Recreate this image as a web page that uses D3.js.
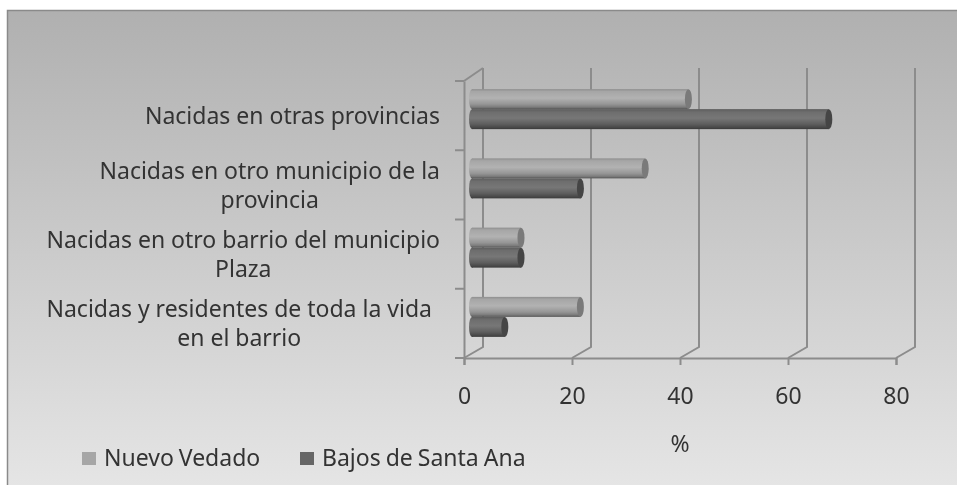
<!DOCTYPE html>
<html>
<head>
<meta charset="utf-8">
<script src="https://cdn.jsdelivr.net/npm/d3@7"></script>
<style>
  html, body { margin: 0; padding: 0; background: #fff; }
  svg { filter: blur(0.45px); }
  text { font-family: "Noto Sans", sans-serif; fill: #333; font-size: 23px; }
</style>
</head>
<body>
<div id="chart"></div>
<script>
// Data
const categories = [
    ["Nacidas en otras provincias"],
    ["Nacidas en otro municipio de la", "provincia"],
    ["Nacidas en otro barrio del municipio", "Plaza"],
    ["Nacidas y residentes de toda la vida", "en el barrio"]
];
const seriesNames = ["Nuevo Vedado", "Bajos de Santa Ana"];
const nuevoVedado = [41, 33, 10, 21];
const bajosSantaAna = [67, 21, 10, 7];
const xTicks = [0, 20, 40, 60, 80];
const labelRight = [440, 440, 440, 432];

const viewW = 957;
const viewH = 485;

// Plot box of the front face, the back wall sits up and to the right
const plot = { left: 464, right: 896, top: 81, bottom: 358 };
const depth = { x: 19, y: -11 };
const lineColor = "#8c8c8c";

const svg = d3.select("#chart")
    .append("svg")
    .attr("width", viewW)
    .attr("height", viewH)
    .style("display", "block");

const defs = svg.append("defs");

// Background gradient
const bg = defs.append("linearGradient")
    .attr("id", "bg")
    .attr("x1", 0).attr("y1", 0).attr("x2", 0).attr("y2", 1);
bg.append("stop").attr("offset", "0%").attr("stop-color", "#b0b0b0");
bg.append("stop").attr("offset", "100%").attr("stop-color", "#e6e6e6");

// Cylinder shading
const addCylinder = (id, stops) => {
    const g = defs.append("linearGradient")
        .attr("id", id)
        .attr("x1", 0).attr("y1", 0).attr("x2", 0).attr("y2", 1);
    stops.forEach(([o, c]) => g.append("stop").attr("offset", o).attr("stop-color", c));
};
addCylinder("cylLight", [["0%", "#8e8e8e"], ["12%", "#a6a6a6"], ["45%", "#b2b2b2"], ["75%", "#969696"], ["90%", "#7c7c7c"], ["100%", "#555"]]);
addCylinder("cylDark", [["0%", "#5c5c5c"], ["15%", "#6e6e6e"], ["45%", "#777"], ["75%", "#5e5e5e"], ["92%", "#484848"], ["100%", "#3a3a3a"]]);

svg.append("rect")
    .attr("x", 7.5).attr("y", 10.5)
    .attr("width", viewW).attr("height", viewH)
    .attr("fill", "url(#bg)")
    .attr("stroke", "#8a8a8a")
    .attr("stroke-width", 1.5);

// Scales
const xScale = d3.scaleLinear().domain([0, 80]).range([plot.left, plot.right]);
const yScale = d3.scaleBand().domain(d3.range(categories.length)).range([plot.top, plot.bottom]);

// Back wall gridlines and floor connectors
const wall = svg.append("g")
    .attr("stroke", lineColor)
    .attr("stroke-width", 2)
    .attr("fill", "none");
xTicks.forEach(t => {
    wall.append("path")
        .attr("d", `M${xScale(t)},${plot.bottom} L${xScale(t) + depth.x},${plot.bottom + depth.y} L${xScale(t) + depth.x},${plot.top + depth.y - 2}`);
});
wall.append("path")
    .attr("d", `M${plot.left},${plot.top} L${plot.left + depth.x},${plot.top + depth.y - 2}`);

// Axes
const xAxis = svg.append("g")
    .attr("transform", `translate(0,${plot.bottom})`)
    .call(d3.axisBottom(xScale).tickValues(xTicks).tickSize(7).tickPadding(23));
const yAxis = svg.append("g")
    .attr("transform", `translate(${plot.left},0)`)
    .call(d3.axisLeft(yScale).tickValues([]).tickSize(0));

[xAxis, yAxis].forEach(a => {
    a.selectAll("path, line").attr("stroke", lineColor).attr("stroke-width", 2);
});
xAxis.selectAll("text").style("font-size", "23px");

// Category boundary ticks on the left axis
const boundaries = d3.range(categories.length + 1).map(i => i === categories.length ? plot.bottom : yScale(i));
svg.append("g")
    .selectAll("line")
    .data(boundaries)
    .join("line")
    .attr("x1", plot.left - 9)
    .attr("x2", plot.left)
    .attr("y1", d => d)
    .attr("y2", d => d)
    .attr("stroke", lineColor)
    .attr("stroke-width", 2);

// Bars, drawn as cylinders
const barH = 20;
const barShift = { x: 6, y: -6.5 };
const bars = svg.append("g");
const drawSeries = (values, offset, fillId, capColor) => {
    const g = bars.append("g");
    values.forEach((v, i) => {
        const x0 = xScale(0) + barShift.x;
        const x1 = xScale(v) + barShift.x - 3;
        const top = yScale(i) + yScale.bandwidth() / 2 + barShift.y + offset;
        g.append("ellipse")
            .attr("cx", x0 + 2).attr("cy", top + barH / 2)
            .attr("rx", 3).attr("ry", barH / 2)
            .attr("fill", `url(#${fillId})`);
        g.append("rect")
            .attr("x", x0 + 2).attr("y", top)
            .attr("width", x1 - x0 - 2).attr("height", barH)
            .attr("fill", `url(#${fillId})`);
        g.append("ellipse")
            .attr("cx", x1).attr("cy", top + barH / 2)
            .attr("rx", 3.5).attr("ry", barH / 2)
            .attr("fill", capColor);
    });
};
drawSeries(bajosSantaAna, 0, "cylDark", "#454545");
drawSeries(nuevoVedado, -barH, "cylLight", "#7a7a7a");

// Category labels, lines centred inside a right aligned block
categories.forEach((lines, i) => {
    const cy = yScale(i) + yScale.bandwidth() / 2;
    const firstY = cy + 8.5 - (lines.length - 1) * 14.5;
    const t = svg.append("text")
        .attr("text-anchor", "end")
        .attr("x", labelRight[i])
        .attr("y", firstY)
        .text(lines[0]);
    const w = t.node().getComputedTextLength();
    if (lines[1]) {
        svg.append("text")
            .attr("text-anchor", "middle")
            .attr("x", labelRight[i] - w / 2)
            .attr("y", firstY + 29)
            .text(lines[1]);
    }
});

// Axis title
svg.append("text")
    .attr("x", 680)
    .attr("y", 452)
    .attr("text-anchor", "middle")
    .text("%");

// Legend
const legendX = [82, 300];
seriesNames.forEach((name, i) => {
    svg.append("rect")
        .attr("x", legendX[i]).attr("y", 452)
        .attr("width", 14).attr("height", 13)
        .attr("fill", i === 0 ? "#a6a6a6" : "#666");
    svg.append("text")
        .attr("x", legendX[i] + 22)
        .attr("y", 466)
        .style("word-spacing", "-1px")
        .text(name);
});
</script>
</body>
</html>
